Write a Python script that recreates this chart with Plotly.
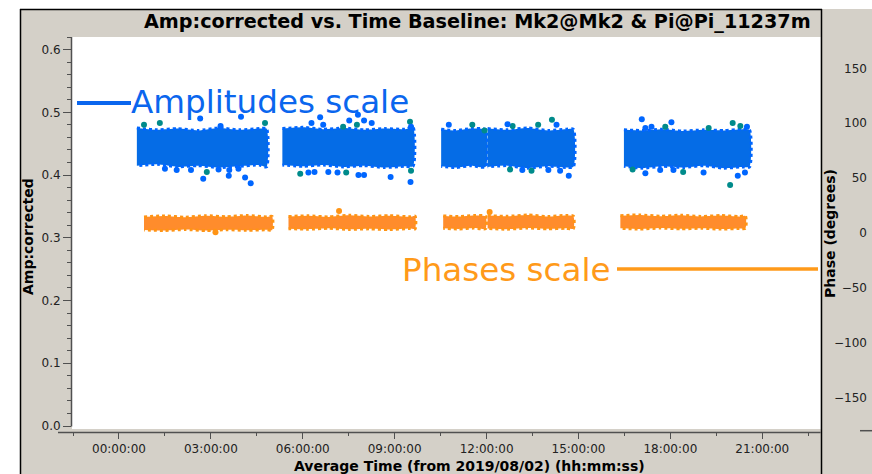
import plotly.graph_objects as go

DAY = "2019-08-02"

# ---- Amplitude (left axis): scans as time samples of the cloud's upper / lower edge
amp_scan_times = [
    ["00:35", "01:15", "01:55", "02:35", "03:15", "03:55", "04:35", "04:49"],
    ["05:20", "06:00", "06:40", "07:20", "08:00", "08:40", "09:20", "09:36"],
    ["10:31", "11:00", "11:30", "11:58"],
    ["12:02", "12:40", "13:20", "14:00", "14:35", "14:50"],
    ["16:29", "17:05", "17:45", "18:25", "19:05", "19:45", "20:20", "20:35"],
]
amp_scan_upper = [
    [0.475, 0.472, 0.474, 0.471, 0.475, 0.472, 0.474, 0.474],
    [0.474, 0.476, 0.473, 0.475, 0.472, 0.474, 0.473, 0.476],
    [0.473, 0.471, 0.474, 0.472],
    [0.474, 0.472, 0.475, 0.471, 0.473, 0.473],
    [0.472, 0.471, 0.473, 0.470, 0.472, 0.471, 0.473, 0.472],
]
amp_scan_lower = [
    [0.415, 0.417, 0.413, 0.415, 0.412, 0.414, 0.416, 0.413],
    [0.416, 0.414, 0.416, 0.413, 0.415, 0.412, 0.414, 0.414],
    [0.414, 0.412, 0.415, 0.413],
    [0.413, 0.415, 0.411, 0.414, 0.412, 0.413],
    [0.414, 0.411, 0.414, 0.412, 0.415, 0.411, 0.413, 0.413],
]

# Isolated amplitude points outside the dense cloud
amp_blue_times = [
    "02:39", "03:59", "03:19", "01:30", "01:53", "02:21", "02:45", "03:15", "03:36", "03:35",
    "04:07", "04:18", "03:54",
    "06:34", "06:17", "06:40", "07:31", "08:00", "08:15", "07:48", "09:32", "06:11", "06:23",
    "06:50", "07:08", "07:49", "08:00", "08:52", "09:31",
    "10:46", "12:41", "14:17", "13:10", "14:01", "14:24", "14:41",
    "17:04", "18:02", "17:11", "17:23", "20:30", "17:11", "17:40", "18:06", "19:05", "20:12",
    "20:26",
]
amp_blue_values = [
    0.490, 0.493, 0.478, 0.410, 0.408, 0.408, 0.394, 0.409, 0.408, 0.399,
    0.396, 0.387, 0.410,
    0.492, 0.483, 0.480, 0.487, 0.487, 0.483, 0.496, 0.477, 0.404, 0.405,
    0.405, 0.404, 0.400, 0.400, 0.397, 0.389,
    0.480, 0.481, 0.480, 0.408, 0.408, 0.407, 0.399,
    0.489, 0.484, 0.475, 0.477, 0.477, 0.403, 0.408, 0.408, 0.404, 0.399,
    0.404,
]
amp_teal_times = [
    "01:20", "00:49", "04:46", "02:52",
    "09:30", "07:19", "07:46", "05:55", "07:25", "09:32",
    "11:32", "11:56", "12:51", "14:08", "13:41", "13:28", "12:46",
    "20:02", "17:50", "19:15", "20:17", "16:46", "18:25", "19:57",
]
amp_teal_values = [
    0.483, 0.480, 0.483, 0.405,
    0.485, 0.477, 0.480, 0.402, 0.404, 0.407,
    0.480, 0.471, 0.478, 0.488, 0.480, 0.407, 0.409,
    0.483, 0.477, 0.475, 0.478, 0.409, 0.405, 0.384,
]

# ---- Phase (right axis, degrees): same layout of scans
phase_scan_times = [
    ["00:49", "01:30", "02:10", "02:50", "03:30", "04:10", "04:50", "05:00"],
    ["05:32", "06:10", "06:50", "07:30", "08:10", "08:50", "09:30", "09:40"],
    ["10:35", "11:05", "11:35", "11:58"],
    ["12:02", "12:40", "13:20", "14:00", "14:35", "14:50"],
    ["16:22", "17:00", "17:40", "18:20", "19:00", "19:40", "20:15", "20:27"],
]
phase_scan_upper = [
    [14.5, 15.4, 14.2, 15.6, 14.6, 15.8, 14.5, 15.0],
    [14.8, 15.5, 14.5, 16.0, 14.9, 15.6, 14.6, 15.2],
    [15.4, 14.8, 15.8, 15.0],
    [15.7, 15.0, 16.2, 14.8, 15.8, 15.2],
    [15.6, 16.3, 15.1, 16.0, 14.9, 15.7, 14.8, 15.4],
]
phase_scan_lower = [
    [2.6, 2.1, 3.0, 2.0, 2.8, 2.3, 2.7, 2.4],
    [3.8, 3.3, 4.1, 3.1, 3.6, 3.0, 3.9, 3.6],
    [4.1, 3.5, 4.3, 3.8],
    [4.0, 3.3, 4.4, 3.6, 4.1, 3.8],
    [4.1, 3.4, 4.3, 3.6, 4.1, 3.4, 3.9, 4.1],
]
phase_extra_times = ["07:11", "03:09", "12:06"]
phase_extra_values = [19.9, 0.5, 19.0]

# ---- Axis ticks
amp_ticks = [0.0, 0.1, 0.2, 0.3, 0.4, 0.5, 0.6]
phase_ticks = [-150, -100, -50, 0, 50, 100, 150]

TITLE = "Amp:corrected vs. Time Baseline: Mk2@Mk2 & Pi@Pi_11237m"
X_TITLE = "Average Time (from 2019/08/02) (hh:mm:ss)"
Y_TITLE = "Amp:corrected"
Y2_TITLE = "Phase (degrees)"

BLUE = "#0066ff"
TEAL = "#008b8b"
AMP_CLOUD = "#056ce6"     # blue / teal points blended
ORANGE = "#ff9414"
PHASE_CLOUD = "#ff8c2c"   # orange / salmon points blended
PANEL = "#d4d0c8"
FONT = "DejaVu Sans"


def stamp(t):
    return f"{DAY} {t}:00"


def band(times, upper, lower):
    xs = [stamp(t) for t in times] + [stamp(t) for t in reversed(times)]
    ys = list(upper) + list(reversed(lower))
    return xs, ys


fig = go.Figure()

# dense clouds: filled envelope with a beaded outline
for times, up, lo in zip(amp_scan_times, amp_scan_upper, amp_scan_lower):
    xs, ys = band(times, up, lo)
    fig.add_trace(go.Scatter(
        x=xs, y=ys, mode="lines", fill="toself", fillcolor=AMP_CLOUD,
        line=dict(width=3, color=BLUE, dash="dot", shape="spline", smoothing=0.6),
        hoverinfo="skip", showlegend=False, yaxis="y",
    ))

for times, up, lo in zip(phase_scan_times, phase_scan_upper, phase_scan_lower):
    xs, ys = band(times, up, lo)
    fig.add_trace(go.Scatter(
        x=xs, y=ys, mode="lines", fill="toself", fillcolor=PHASE_CLOUD,
        line=dict(width=3, color=ORANGE, dash="dot", shape="spline", smoothing=0.6),
        hoverinfo="skip", showlegend=False, yaxis="y2",
    ))

fig.add_trace(go.Scatter(
    x=[stamp(t) for t in amp_teal_times], y=amp_teal_values, mode="markers",
    marker=dict(color=TEAL, size=6, line=dict(width=0)), showlegend=False, yaxis="y",
))
fig.add_trace(go.Scatter(
    x=[stamp(t) for t in amp_blue_times], y=amp_blue_values, mode="markers",
    marker=dict(color=BLUE, size=6, line=dict(width=0)), showlegend=False, yaxis="y",
))
fig.add_trace(go.Scatter(
    x=[stamp(t) for t in phase_extra_times], y=phase_extra_values, mode="markers",
    marker=dict(color=ORANGE, size=6, line=dict(width=0)), showlegend=False, yaxis="y2",
))

# ---- Page geometry (pixels)
L, R, T, B = 72, 5, 37, 42
W = 872 - L - R
H = 474 - T - B
PLOT_RIGHT = 820.7


def fx(p):
    return (p - L) / W


def fy(p):
    return (474 - B - p) / H


def rect(x0, y0, x1, y1, fill):
    return dict(type="rect", xref="paper", yref="paper", layer="below",
                x0=fx(x0), x1=fx(x1), y0=fy(y1), y1=fy(y0),
                fillcolor=fill, line=dict(width=0))


def seg(x0, y0, x1, y1, color, width, layer="below"):
    return dict(type="line", xref="paper", yref="paper", layer=layer,
                x0=fx(x0), x1=fx(x1), y0=fy(y0), y1=fy(y1),
                line=dict(color=color, width=width))


shapes = [
    rect(20, 9, 872, 474, PANEL),
    rect(L, T, PLOT_RIGHT, 429, "white"),
    seg(20.5, 9, 20.5, 474, "black", 1.5),
    seg(20, 9.5, 822, 9.5, "black", 1.5),
    seg(821.5, 9, 821.5, 474, "black", 1.5),
    seg(71.5, T, 71.5, 426.5, "#505050", 1.5),
    seg(58, 432.5, PLOT_RIGHT, 432.5, "#505050", 1.5),
    seg(860, 430.7, 872, 430.7, "#505050", 1.5),
    seg(77, 103, 131, 103, "#0a66ee", 4, "above"),
    seg(617, 269, 818, 269, "#ff9a1a", 3.5, "above"),
]

annotations = [
    dict(text=f"<b>{TITLE}</b>", x=fx(477), y=fy(21), font=dict(size=19.2, color="black")),
    dict(text=f"<b>{X_TITLE}</b>", x=fx(469), y=fy(466), font=dict(size=14, color="black")),
    dict(text=f"<b>{Y_TITLE}</b>", x=fx(28), y=fy(237), textangle=-90,
         font=dict(size=14, color="black")),
    dict(text=f"<b>{Y2_TITLE}</b>", x=fx(830), y=fy(234), textangle=-90,
         font=dict(size=14, color="black")),
    dict(text="Amplitudes scale", x=fx(128.5), y=fy(102), xanchor="left",
         font=dict(size=32.6, color="#0a66ee")),
    dict(text="Phases scale", x=fx(399.5), y=fy(270), xanchor="left",
         font=dict(size=32.6, color="#ff9a1a")),
]
for a in annotations:
    a.update(xref="paper", yref="paper", showarrow=False)
    a.setdefault("xanchor", "center")
    a.setdefault("yanchor", "middle")
    a["font"]["family"] = FONT

amp_range = [(426 - 432) / 627.4, (426 - 37) / 627.4]
phase_range = [(232.8 - 432) / 1.0967, (232.8 - 37) / 1.0967]

tick_font = dict(family=FONT, size=12, color="#222222")

fig.update_layout(
    width=872, height=474,
    margin=dict(l=L, r=R, t=T, b=B, autoexpand=False),
    paper_bgcolor="white",
    plot_bgcolor="rgba(0,0,0,0)",
    showlegend=False,
    shapes=shapes,
    annotations=annotations,
    xaxis=dict(
        type="date", domain=[0, fx(PLOT_RIGHT)],
        range=["2019-08-01 22:27:58", "2019-08-02 22:54:25"],
        tick0=f"{DAY} 00:00:00", dtick=3 * 3600 * 1000, tickformat="%H:%M:%S",
        ticks="outside", ticklen=6, tickwidth=1.2, tickcolor="#505050",
        minor=dict(dtick=1.5 * 3600 * 1000, ticks="outside", ticklen=3,
                   tickwidth=1.2, tickcolor="#505050"),
        showline=False, showgrid=False, zeroline=False,
        tickfont=tick_font, automargin=False,
    ),
    yaxis=dict(
        range=amp_range, tickvals=amp_ticks, tickformat=".1f",
        ticks="outside", ticklen=8, tickwidth=1.2, tickcolor="#505050",
        minor=dict(dtick=0.02, ticks="outside", ticklen=4, tickwidth=1.2, tickcolor="#505050"),
        showline=False, showgrid=False, zeroline=False,
        tickfont=tick_font, automargin=False,
    ),
    yaxis2=dict(
        range=phase_range, tickvals=phase_ticks, overlaying="y",
        anchor="free", position=1.0, side="left", ticks="",
        showline=False, showgrid=False, zeroline=False,
        tickfont=tick_font, automargin=False,
    ),
)

fig.write_html("out.html")
